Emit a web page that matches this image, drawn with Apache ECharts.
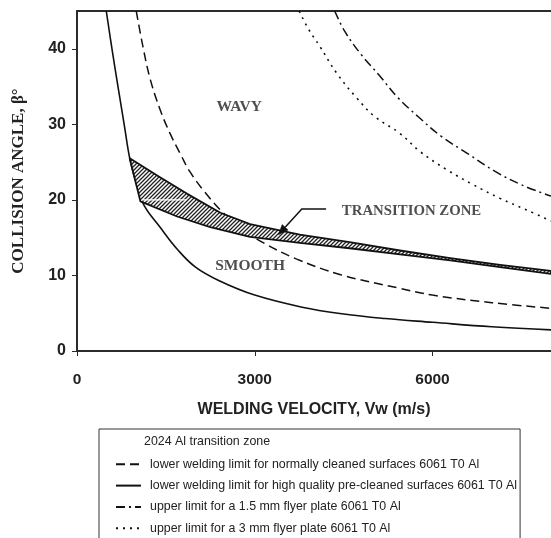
<!DOCTYPE html>
<html>
<head>
<meta charset="utf-8">
<script src="https://cdn.jsdelivr.net/npm/echarts@6/dist/echarts.min.js"></script>
<style>
  html, body { margin: 0; padding: 0; background: #fff; }
  #chart { width: 551px; height: 538px; }
</style>
</head>
<body>
<div id="chart"></div>
<script>
// Collision angle vs. welding velocity: weldability window for Al plates.

// Tick labels
const xTicks = [0, 3000, 6000];
const yTicks = [0, 10, 20, 30, 40];

// 2024 Al transition zone, upper and lower boundaries [Vw, beta]
const zoneUpper = [[890, 25.5], [1380, 23.1], [1860, 20.8], [2420, 18.3], [2920, 16.8],
  [3760, 15.4], [4600, 14.4], [5450, 13.3], [6300, 12.3], [7140, 11.4], [8000, 10.6]];
const zoneLower = [[1070, 19.8], [1690, 17.8], [2250, 16.4], [2920, 15.1], [3760, 14.3],
  [4600, 13.6], [5450, 12.8], [6300, 12.0], [7140, 11.1], [8000, 10.2]];

// Lower welding limit, normally cleaned surfaces 6061 T0 Al
const lowerNormal = [[1000, 45], [1120, 40], [1235, 36], [1400, 32], [1570, 28.8], [1750, 26],
  [1900, 23.8], [2150, 21.1], [2480, 18.2], [2800, 16.1], [3150, 14.3], [3700, 12.2],
  [4450, 10.1], [5450, 8.3], [6000, 7.4], [7000, 6.4], [8000, 5.65]];

// Lower welding limit, high quality pre-cleaned surfaces 6061 T0 Al
const lowerHighQuality = [[494, 45], [600, 39.5], [700, 34.6], [800, 29.8], [890, 25.5],
  [1000, 22.2], [1130, 19.3], [1400, 16.4], [1700, 13.4], [2000, 11.1], [2400, 9.3],
  [3000, 7.4], [3800, 5.8], [4500, 4.9], [5200, 4.3], [6000, 3.8], [7000, 3.2], [8000, 2.8]];

// Upper limit, 1.5 mm flyer plate
const upper15 = [[4350, 45], [4520, 42.3], [4800, 39.2], [5100, 36.5], [5420, 33.5],
  [5760, 31], [6150, 28.4], [6600, 26.1], [7050, 23.8], [7500, 22], [8000, 20.5]];

// Upper limit, 3 mm flyer plate
const upper3 = [[3750, 45], [3900, 42.7], [4100, 40.3], [4380, 36.8], [4720, 33.5],
  [5030, 31.0], [5450, 28.8], [5790, 26.4], [6240, 24.0], [6690, 22.0], [7140, 20.2],
  [7580, 18.7], [8000, 17.2]];

// Region annotations [Vw, beta, text]
const regionLabels = [[2738, 32.3, 'WAVY'], [2922, 11.3, 'SMOOTH']];
const zoneLabel = [[4470, 18.5, 'TRANSITION ZONE']];
// Pointer from the zone label to the band
const zoneArrow = [[4204, 18.8], [3794, 18.8], [3399, 15.4]];
// Gridline at 20 showing through the hatched band
const zoneGap = [[1110, 20], [1840, 20]];

const names = [
  '2024 Al transition zone',
  'lower welding limit for normally cleaned surfaces 6061 T0 Al',
  'lower welding limit for high quality pre-cleaned surfaces 6061 T0 Al',
  'upper limit for a 1.5 mm flyer plate 6061 T0 Al',
  'upper limit for a 3 mm flyer plate 6061 T0 Al'
];

// diagonal hatch used for the band
const hatch = document.createElement('canvas');
hatch.width = 4; hatch.height = 4;
(function () {
  const c = hatch.getContext('2d');
  c.fillStyle = '#fff';
  c.fillRect(0, 0, 4, 4);
  c.strokeStyle = '#222';
  c.lineWidth = 1.3;
  c.beginPath();
  c.moveTo(0, 4); c.lineTo(4, 0);
  c.moveTo(-1, 1); c.lineTo(1, -1);
  c.moveTo(3, 5); c.lineTo(5, 3);
  c.stroke();
})();

const sans = 'Liberation Sans, Arial, sans-serif';
const serif = 'Liberation Serif, Times New Roman, serif';
const axisColor = '#2b2b2b';

const chart = echarts.init(document.getElementById('chart'), null, { renderer: 'canvas' });

function lineSeries(name, data, type, width) {
  return {
    name: name, type: 'line', data: data, symbol: 'none',
    smooth: 0.4, clip: true, z: 3,
    lineStyle: { color: '#111', width: width, type: type, cap: 'butt' },
    itemStyle: { color: '#111' },
    silent: true
  };
}

const plainNumber = v => String(v);

chart.setOption({
  animation: false,
  backgroundColor: '#fff',
  grid: { left: 77, right: 0, top: 11, bottom: 187 },
  xAxis: [{
    type: 'value', min: 0, max: 8000, interval: 1000,
    name: 'WELDING VELOCITY, Vw (m/s)', nameLocation: 'middle', nameGap: 51,
    nameTextStyle: { fontFamily: sans, fontWeight: 'bold', fontSize: 16, color: '#222' },
    axisLine: { show: true, onZero: false, lineStyle: { color: axisColor, width: 2 } },
    axisTick: { show: true, customValues: xTicks, length: 5, inside: false, lineStyle: { color: axisColor, width: 1 } },
    axisLabel: { customValues: xTicks, formatter: plainNumber, margin: 21, fontFamily: sans, fontWeight: 'bold', fontSize: 15.5, color: '#222' },
    splitLine: { show: false }
  }, {
    // top frame line
    type: 'value', position: 'top', min: 0, max: 8000,
    axisLine: { show: true, onZero: false, lineStyle: { color: axisColor, width: 2 } },
    axisTick: { show: false }, axisLabel: { show: false }, splitLine: { show: false }
  }],
  yAxis: {
    type: 'value', min: 0, max: 45, interval: 5,
    name: 'COLLISION ANGLE, β°', nameLocation: 'middle', nameGap: 50, nameRotate: 90,
    nameTextStyle: { fontFamily: serif, fontWeight: 'bold', fontSize: 17, color: '#222' },
    axisLine: { show: true, onZero: false, lineStyle: { color: axisColor, width: 2 } },
    axisTick: { show: true, customValues: yTicks, length: 5, inside: false, lineStyle: { color: axisColor, width: 1 } },
    axisLabel: { customValues: yTicks, formatter: plainNumber, margin: 11, fontFamily: sans, fontWeight: 'bold', fontSize: 16, color: '#222' },
    splitLine: { show: false }
  },
  legend: {
    orient: 'vertical', left: 99, top: 429, height: 130,
    padding: [6, 3, 6, 16],
    itemWidth: 25, itemHeight: 14, itemGap: 9.3,
    borderColor: '#333', borderWidth: 1, backgroundColor: '#fff',
    selectedMode: false,
    itemStyle: { color: 'rgba(0,0,0,0)', borderWidth: 0, opacity: 0 },
    lineStyle: { width: 2 },
    textStyle: { fontFamily: sans, fontSize: 12.4, color: '#222', padding: [0, 0, 0, 4] },
    data: [
      { name: names[0], icon: 'rect', itemStyle: { color: 'rgba(0,0,0,0)', borderWidth: 0, opacity: 0 },
        textStyle: { padding: [0, 0, 0, -2] } },
      { name: names[1] }, { name: names[2] }, { name: names[3] }, { name: names[4] }
    ]
  },
  series: [
    {
      name: names[0], type: 'custom', clip: true, z: 4, silent: true,
      itemStyle: { color: 'rgba(0,0,0,0)' },
      data: [[0, 0]],
      renderItem: function (params, api) {
        const pts = zoneUpper.map(p => api.coord(p))
          .concat(zoneLower.slice().reverse().map(p => api.coord(p)));
        const g0 = api.coord(zoneGap[0]), g1 = api.coord(zoneGap[1]);
        return {
          type: 'group',
          children: [
            { type: 'polygon', shape: { points: pts, smooth: 0 },
              style: { fill: { image: hatch, repeat: 'repeat' }, stroke: '#111', lineWidth: 1.8, lineJoin: 'round' } },
            { type: 'line', shape: { x1: g0[0], y1: g0[1], x2: g1[0], y2: g1[1] },
              style: { stroke: '#fff', lineWidth: 1.4 } }
          ]
        };
      }
    },
    lineSeries(names[1], lowerNormal, [9, 5], 1.5),
    lineSeries(names[2], lowerHighQuality, 'solid', 1.6),
    lineSeries(names[3], upper15, [9, 4, 2, 4], 1.5),
    lineSeries(names[4], upper3, [2, 5], 1.6),
    {
      name: 'zoneArrow', type: 'custom', z: 5, silent: true, clip: false,
      data: [[0, 0]],
      renderItem: function (params, api) {
        const p = zoneArrow.map(q => api.coord(q));
        const a = p[p.length - 2], b = p[p.length - 1];
        const ang = Math.atan2(b[1] - a[1], b[0] - a[0]);
        const L = 10, W = 4;
        const bx = b[0] - L * Math.cos(ang), by = b[1] - L * Math.sin(ang);
        const nx = -Math.sin(ang) * W, ny = Math.cos(ang) * W;
        return {
          type: 'group',
          children: [
            { type: 'polyline', shape: { points: p.slice(0, -1).concat([[bx, by]]) },
              style: { stroke: '#111', lineWidth: 1.5, fill: null } },
            { type: 'polygon', shape: { points: [b, [bx + nx, by + ny], [bx - nx, by - ny]] },
              style: { fill: '#111', stroke: '#111', lineWidth: 0.5 } }
          ]
        };
      }
    },
    {
      name: 'regionLabels', type: 'scatter', symbolSize: 0, silent: true, z: 6,
      data: regionLabels,
      label: {
        show: true, position: 'inside', formatter: p => p.data[2],
        fontFamily: serif, fontWeight: 'bold', fontSize: 15.5, color: '#222'
      }
    },
    {
      name: 'zoneLabel', type: 'scatter', symbolSize: 0, silent: true, z: 6,
      data: zoneLabel,
      label: {
        show: true, position: 'right', distance: 0, formatter: p => p.data[2],
        fontFamily: serif, fontWeight: 'bold', fontSize: 14.8, color: '#222'
      }
    }
  ]
});
</script>
</body>
</html>
